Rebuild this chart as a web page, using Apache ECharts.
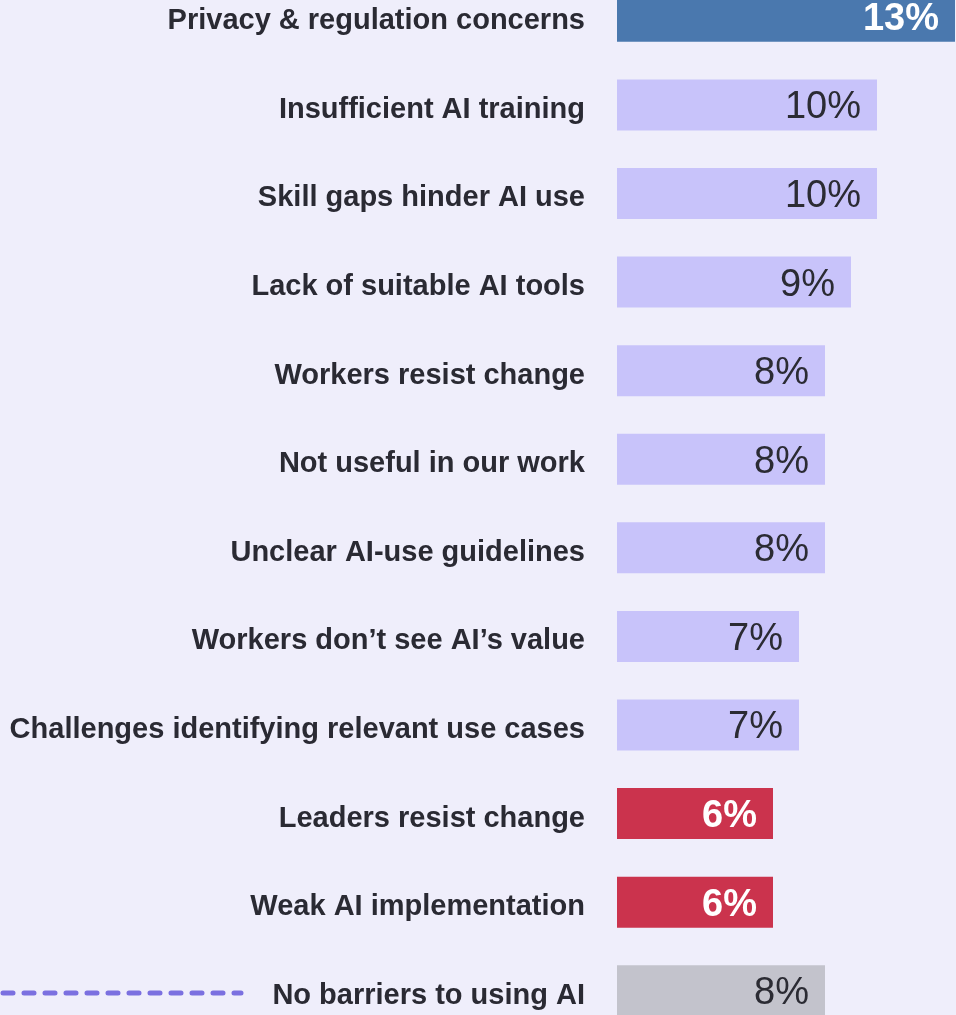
<!DOCTYPE html>
<html>
<head>
<meta charset="utf-8">
<style>
  html, body { margin: 0; padding: 0; background: #efeefb; }
  #main { width: 956px; height: 1015px; }
</style>
<script src="https://cdn.jsdelivr.net/npm/echarts@6/dist/echarts.min.js"></script>
</head>
<body>
<div id="main"></div>
<script>
// barriers, top to bottom
var categories = [
  'Privacy & regulation concerns',
  'Insufficient AI training',
  'Skill gaps hinder AI use',
  'Lack of suitable AI tools',
  'Workers resist change',
  'Not useful in our work',
  'Unclear AI-use guidelines',
  'Workers don\u2019t see AI\u2019s value',
  'Challenges identifying relevant use cases',
  'Leaders resist change',
  'Weak AI implementation',
  'No barriers to using AI'
];
var values = [13, 10, 10, 9, 8, 8, 8, 7, 7, 6, 6, 8];
// group of each row: top / mid / low / none
var groups = ['top', 'mid', 'mid', 'mid', 'mid', 'mid', 'mid', 'mid', 'mid', 'low', 'low', 'none'];

var groupStyle = {
  top:  { bar: '#4a78ae', text: '#ffffff', weight: 'bold' },
  mid:  { bar: '#c8c3fa', text: '#2b2b33', weight: 'normal' },
  low:  { bar: '#cb334d', text: '#ffffff', weight: 'bold' },
  none: { bar: '#c3c3cc', text: '#2b2b33', weight: 'normal' }
};
var FONT = 'Arial';

var barData = [];
for (var i = 0; i < values.length; i++) {
  var st = groupStyle[groups[i]];
  barData.push({
    value: values[i],
    itemStyle: { color: st.bar },
    label: { color: st.text, fontWeight: st.weight }
  });
}

var chart = echarts.init(document.getElementById('main'));
chart.setOption({
  backgroundColor: '#efeefb',
  animation: false,
  grid: {
    left: 617, width: 338, top: -28, height: 1063,
    containLabel: false, outerBoundsMode: 'none'
  },
  xAxis: {
    type: 'value', min: 0, max: 13,
    show: false
  },
  yAxis: {
    type: 'category',
    inverse: true,
    data: categories,
    axisLine: { show: false },
    axisTick: { show: false },
    axisLabel: {
      margin: 32,
      formatter: function (v) { return '{a|' + v + '}'; },
      rich: {
        a: {
          fontFamily: FONT,
          fontWeight: 'bold',
          fontSize: 29,
          color: '#2a2a33',
          padding: [10, 0, 0, 0]
        }
      }
    }
  },
  series: [{
    type: 'bar',
    data: barData,
    barWidth: 51,
    clip: false,
    label: {
      show: true,
      position: 'insideRight',
      distance: 16,
      offset: [0, 3],
      formatter: '{c}%',
      fontFamily: FONT,
      fontSize: 38
    }
  }],
  graphic: [{
    type: 'line',
    shape: { x1: 3, y1: 993, x2: 241, y2: 993 },
    style: { stroke: '#7b70e0', lineWidth: 5, lineCap: 'round', lineDash: [10, 11] }
  }]
});
</script>
</body>
</html>
